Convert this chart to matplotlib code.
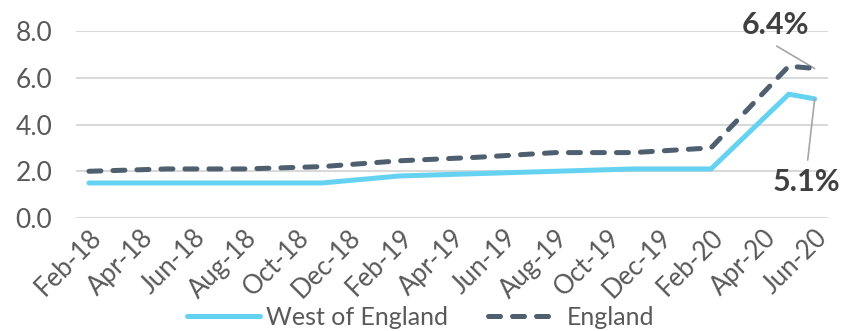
import numpy as np
import matplotlib.pyplot as plt
from matplotlib.lines import Line2D

plt.rcParams['font.family'] = ['Lato', 'DejaVu Sans']

# Monthly category axis, Feb-18 to Jun-20
months = ['Feb-18', 'Mar-18', 'Apr-18', 'May-18', 'Jun-18', 'Jul-18', 'Aug-18',
          'Sep-18', 'Oct-18', 'Nov-18', 'Dec-18', 'Jan-19', 'Feb-19', 'Mar-19',
          'Apr-19', 'May-19', 'Jun-19', 'Jul-19', 'Aug-19', 'Sep-19', 'Oct-19',
          'Nov-19', 'Dec-19', 'Jan-20', 'Feb-20', 'Mar-20', 'Apr-20', 'May-20',
          'Jun-20']

# Claimant rate (%) observations
obs_months = ['Feb-18', 'May-18', 'Aug-18', 'Nov-18', 'Feb-19', 'May-19',
              'Aug-19', 'Nov-19', 'Feb-20', 'May-20', 'Jun-20']
west_of_england = [1.5, 1.5, 1.5, 1.5, 1.8, 1.9, 2.0, 2.1, 2.1, 5.3, 5.1]
england = [2.0, 2.1, 2.1, 2.2, 2.45, 2.6, 2.8, 2.8, 3.0, 6.5, 6.4]

weoe_color = '#66d2f2'
eng_color = '#4e6070'
text_color = '#595959'
grid_color = '#d9d9d9'
leader_color = '#a6a6a6'

x_obs = [months.index(m) for m in obs_months]

fig = plt.figure(figsize=(8.48, 3.31), dpi=100)
ax = fig.add_axes([0.0896, 0.3414, 0.8864, 0.5646])

ax.plot(x_obs, west_of_england, color=weoe_color, lw=3.6,
        solid_capstyle='round', solid_joinstyle='round', zorder=3)
ax.plot(x_obs, england, color=eng_color, lw=3.6, dashes=(2.4, 2.4),
        dash_capstyle='round', dash_joinstyle='round', zorder=4)

ax.set_xlim(-0.5, len(months) - 0.5)
ax.set_ylim(0, 8)
ax.set_yticks(np.arange(0, 8.1, 2))
ax.set_yticklabels([f'{v:.1f}' for v in np.arange(0, 8.1, 2)])
ax.grid(axis='y', color=grid_color, lw=1.5)
ax.set_axisbelow(True)
for s in ax.spines.values():
    s.set_visible(False)

tick_idx = list(range(0, len(months), 2))
ax.set_xticks(tick_idx)
ax.set_xticklabels([months[i] for i in tick_idx], rotation=45, ha='right',
                   va='top', rotation_mode='anchor')
ax.tick_params(axis='x', length=0, pad=5, labelsize=18.5, labelcolor=text_color)
ax.tick_params(axis='y', length=0, pad=17, labelsize=19, labelcolor=text_color)

# Value callouts for the latest month, with leader lines to the points
last = len(obs_months) - 1
callouts = [(england[last], (26.5, 8.26), (26.53, 7.36)),
            (west_of_england[last], (27.7, 1.54), (27.73, 2.48))]
for val, text_pos, line_start in callouts:
    ax.annotate('', xy=(x_obs[last], val), xytext=line_start,
                annotation_clip=False,
                arrowprops=dict(arrowstyle='-', color=leader_color, lw=1.2,
                                shrinkA=0, shrinkB=0))
    ax.text(*text_pos, f'{val:.1f}%', ha='center', va='center', fontsize=22,
            fontweight='bold', color='#404040', clip_on=False)

handles = [Line2D([], [], color=weoe_color, lw=3.6, solid_capstyle='round'),
           Line2D([], [], color=eng_color, lw=3.6, dashes=(2.4, 2.4),
                  dash_capstyle='round')]
fig.legend(handles, ['West of England', 'England'], loc='center',
           bbox_to_anchor=(0.496, 0.042), ncol=2, frameon=False, fontsize=18,
           labelcolor=text_color, handlelength=2.9, handletextpad=0.25,
           columnspacing=1.6, borderpad=0, borderaxespad=0)

fig.savefig('out.png', dpi=100)
